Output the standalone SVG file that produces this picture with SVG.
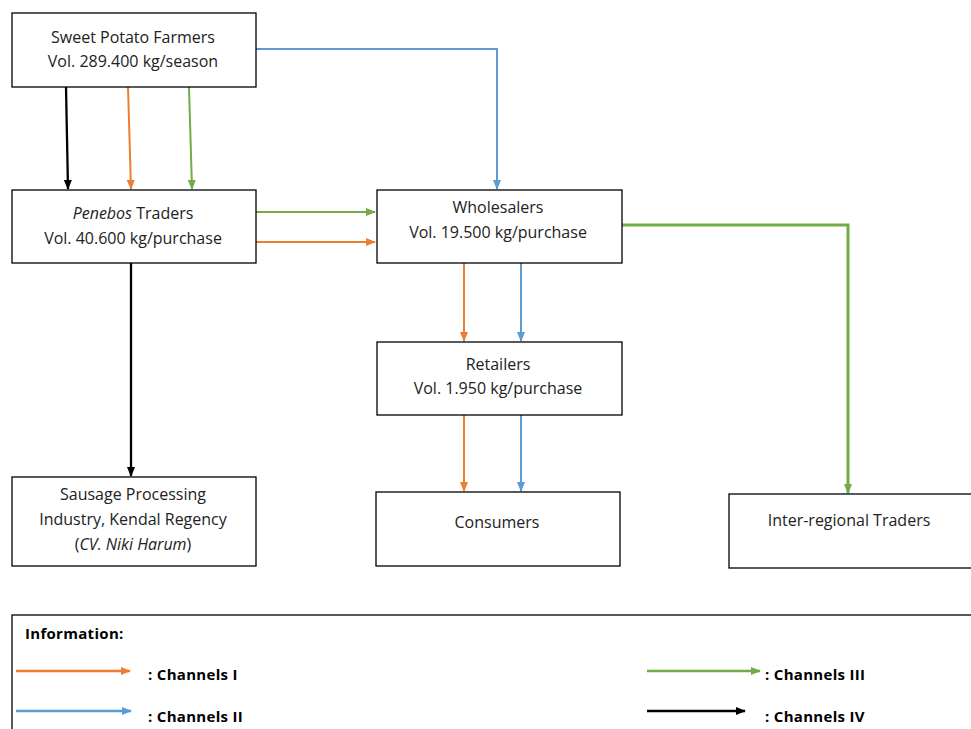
<svg xmlns="http://www.w3.org/2000/svg" width="971" height="729" viewBox="0 0 971 729">
<style>
.box{fill:#fff;stroke:#000;stroke-width:1.3}
.t{font-family:"Open Sans","Liberation Sans",sans-serif;font-size:16px;fill:#222;text-anchor:middle}
.lg{font-family:"Open Sans","Liberation Sans",sans-serif;font-size:15px;font-weight:bold;fill:#000;letter-spacing:0.3px}
.c{fill:none;stroke-width:2}
.o{stroke:#ED7D31}.b{stroke:#5B9BD5}.g{stroke:#70AD47}.k{stroke:#000}
</style>
<defs>
<marker id="mo" markerUnits="userSpaceOnUse" markerWidth="10" markerHeight="10" viewBox="0 0 10 10" refX="9" refY="5" orient="auto"><path d="M0,1 L10,5 L0,9 Z" fill="#ED7D31"/></marker>
<marker id="mb" markerUnits="userSpaceOnUse" markerWidth="10" markerHeight="10" viewBox="0 0 10 10" refX="9" refY="5" orient="auto"><path d="M0,1 L10,5 L0,9 Z" fill="#5B9BD5"/></marker>
<marker id="mg" markerUnits="userSpaceOnUse" markerWidth="10" markerHeight="10" viewBox="0 0 10 10" refX="9" refY="5" orient="auto"><path d="M0,1 L10,5 L0,9 Z" fill="#70AD47"/></marker>
<marker id="mk" markerUnits="userSpaceOnUse" markerWidth="10" markerHeight="10" viewBox="0 0 10 10" refX="9" refY="5" orient="auto"><path d="M0,1 L10,5 L0,9 Z" fill="#000"/></marker>
</defs>
<rect width="971" height="729" fill="#fff"/>

<g id="connectors">
<path class="c k" style="stroke-width:2.3" d="M66,87 L68,189" marker-end="url(#mk)"/>
<path class="c o" d="M128,87 L131,189" marker-end="url(#mo)"/>
<path class="c g" d="M189,87 L192,189" marker-end="url(#mg)"/>
<path class="c b" d="M256,49 L497,49 L497,189" marker-end="url(#mb)"/>
<path class="c g" d="M256,212 L375,212" marker-end="url(#mg)"/>
<path class="c o" d="M256,242 L375,242" marker-end="url(#mo)"/>
<path class="c k" style="stroke-width:2.3" d="M131,263 L131,476" marker-end="url(#mk)"/>
<path class="c o" d="M464,263 L464,341" marker-end="url(#mo)"/>
<path class="c b" d="M521,263 L521,341" marker-end="url(#mb)"/>
<path class="c o" d="M464,415 L464,491" marker-end="url(#mo)"/>
<path class="c b" d="M521,415 L521,491" marker-end="url(#mb)"/>
<path class="c g" style="stroke-width:3" d="M622,225 L848,225 L848,493" marker-end="url(#mg)"/>
</g>

<g id="farmers">
<rect class="box" x="12" y="13" width="244" height="74"/>
<text class="t" x="133" y="43">Sweet Potato Farmers</text>
<text class="t" x="133" y="67">Vol. 289.400 kg/season</text>
</g>
<g id="penebos">
<rect class="box" x="12" y="190" width="244" height="73"/>
<text class="t" x="133" y="219"><tspan font-style="italic">Penebos</tspan> Traders</text>
<text class="t" x="133" y="244">Vol. 40.600 kg/purchase</text>
</g>
<g id="wholesalers">
<rect class="box" x="377" y="190" width="245" height="73"/>
<text class="t" x="498" y="213">Wholesalers</text>
<text class="t" x="498" y="238">Vol. 19.500 kg/purchase</text>
</g>
<g id="retailers">
<rect class="box" x="377" y="342" width="245" height="73"/>
<text class="t" x="498" y="370">Retailers</text>
<text class="t" x="498" y="394">Vol. 1.950 kg/purchase</text>
</g>
<g id="sausage">
<rect class="box" x="12" y="477" width="244" height="89"/>
<text class="t" x="133" y="500">Sausage Processing</text>
<text class="t" x="133" y="525">Industry, Kendal Regency</text>
<text class="t" x="133" y="550">(<tspan font-style="italic">CV. Niki Harum</tspan>)</text>
</g>
<g id="consumers">
<rect class="box" x="376" y="492" width="244" height="74"/>
<text class="t" x="497" y="528">Consumers</text>
</g>
<g id="interregional">
<rect class="box" x="729" y="494" width="250" height="74"/>
<text class="t" x="849" y="526">Inter-regional Traders</text>
</g>

<g id="legend">
<rect class="box" x="12" y="615" width="970" height="130"/>
<text class="lg" x="25" y="639">Information:</text>
<path class="c o" style="stroke-width:2.5" d="M16,671 L130,671" marker-end="url(#mo)"/>
<text class="lg" x="148" y="680">: Channels I</text>
<path class="c b" style="stroke-width:2.5" d="M16,711 L131,711" marker-end="url(#mb)"/>
<text class="lg" x="148" y="722">: Channels II</text>
<path class="c g" style="stroke-width:2.5" d="M647,671 L760,671" marker-end="url(#mg)"/>
<text class="lg" x="765" y="680">: Channels III</text>
<path class="c k" style="stroke-width:2.5" d="M647,711 L745,711" marker-end="url(#mk)"/>
<text class="lg" x="765" y="722">: Channels IV</text>
</g>
</svg>
